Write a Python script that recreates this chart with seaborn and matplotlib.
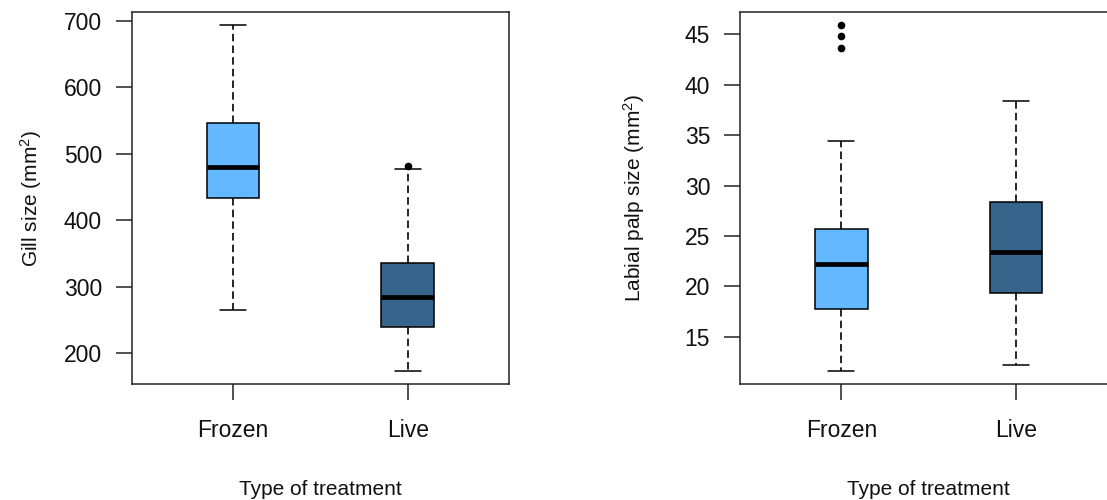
import matplotlib
matplotlib.use("Agg")
import matplotlib.pyplot as plt
import seaborn as sns
import pandas as pd

# Treatment groups
treatments = ["Frozen", "Live"]

# Gill size (mm^2): five-number summaries per treatment
gill_low = [265, 174]
gill_q1 = [433, 239]
gill_median = [481, 284]
gill_q3 = [546, 336]
gill_high = [694, 478]
gill_outlier_group = ["Live"]
gill_outlier_value = [482]

# Labial palp size (mm^2): five-number summaries per treatment
palp_low = [11.6, 12.2]
palp_q1 = [17.8, 19.3]
palp_median = [22.2, 23.4]
palp_q3 = [25.7, 28.4]
palp_high = [34.4, 38.4]
palp_outlier_group = ["Frozen", "Frozen", "Frozen"]
palp_outlier_value = [43.6, 44.8, 45.9]

gill_ticks = [200, 300, 400, 500, 600, 700]
palp_ticks = [15, 20, 25, 30, 35, 40, 45]

colors = {"Frozen": "#63B8FF", "Live": "#36648B"}

sns.set_style("white")
plt.rcParams["font.family"] = ["Liberation Sans", "DejaVu Sans"]
plt.rcParams["mathtext.fontset"] = "custom"
plt.rcParams["mathtext.rm"] = "Liberation Sans"
plt.rcParams["mathtext.it"] = "Liberation Sans:italic"


def summary_frame(low, q1, med, q3, high):
    rows = []
    for i, t in enumerate(treatments):
        for v in (low[i], q1[i], med[i], q3[i], high[i]):
            rows.append({"treatment": t, "value": v})
    return pd.DataFrame(rows)


def draw_panel(ax, box_df, out_df, ylabel, yticks, ylim, ylabel_x):
    sns.boxplot(
        data=box_df, x="treatment", y="value", order=treatments,
        hue="treatment", hue_order=treatments, palette=colors,
        saturation=1, width=0.3, whis=(0, 100), showfliers=False,
        linecolor="black", linewidth=1.1, legend=False, ax=ax,
        whiskerprops=dict(linestyle=(0, (4.5, 2.5)), linewidth=1.2),
        medianprops=dict(linewidth=3.4, color="black"),
    )
    sns.stripplot(
        data=out_df, x="treatment", y="value", order=treatments,
        jitter=False, color="black", size=5.5, linewidth=0, ax=ax,
    )
    ax.set_xlim(-0.58, 1.58)
    ax.set_ylim(*ylim)
    ax.set_yticks(yticks)
    ax.set_xticks([0, 1])
    ax.set_xticklabels(treatments)
    ax.tick_params(axis="both", which="major", length=11.5, width=1.1,
                   color="#222222", pad=10, labelsize=16.5,
                   labelcolor="#111111", left=True, bottom=True)
    ax.tick_params(axis="x", pad=14)
    for s in ax.spines.values():
        s.set_visible(True)
        s.set_color("#222222")
        s.set_linewidth(1.1)
    ax.set_xlabel("Type of treatment", fontsize=15, color="#111111", va="center")
    ax.xaxis.set_label_coords(0.5, -0.283)
    ax.set_ylabel(ylabel, fontsize=15, color="#111111", va="center")
    ax.yaxis.set_label_coords(ylabel_x, 0.5)


fig = plt.figure(figsize=(11.07, 5.0), dpi=100)
ax1 = fig.add_axes([0.119, 0.232, 0.3408, 0.744])
ax2 = fig.add_axes([0.6685, 0.232, 0.3408, 0.744])

gill_box = summary_frame(gill_low, gill_q1, gill_median, gill_q3, gill_high)
gill_out = pd.DataFrame({"treatment": gill_outlier_group, "value": gill_outlier_value})
palp_box = summary_frame(palp_low, palp_q1, palp_median, palp_q3, palp_high)
palp_out = pd.DataFrame({"treatment": palp_outlier_group, "value": palp_outlier_value})

draw_panel(ax1, gill_box, gill_out, r"Gill size (mm$^{\mathrm{2}}$)",
           gill_ticks, (153.8, 713.5), -0.268)
draw_panel(ax2, palp_box, palp_out, r"Labial palp size (mm$^{\mathrm{2}}$)",
           palp_ticks, (10.31, 47.22), -0.282)

fig.savefig("out.png", dpi=100)
